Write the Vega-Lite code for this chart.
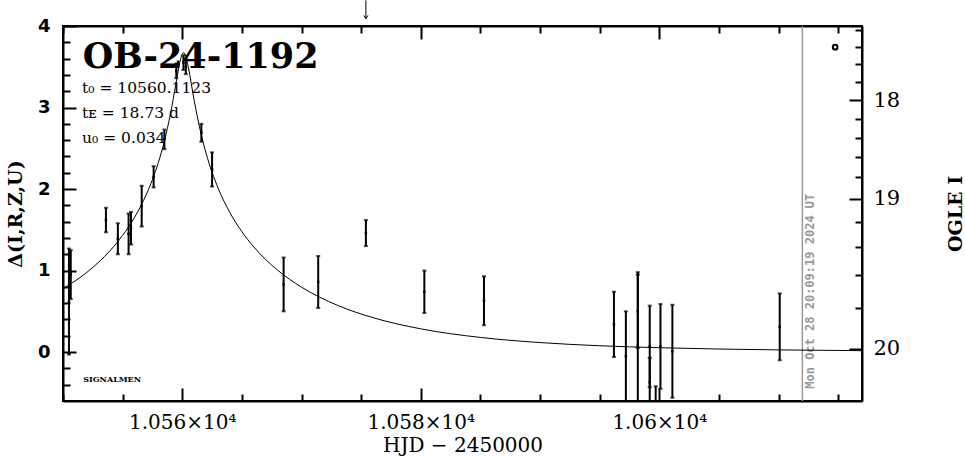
{
  "$schema": "https://vega.github.io/schema/vega-lite/v6.json",
  "autosize": "none",
  "width": 799,
  "height": 375,
  "padding": {"left": 63, "top": 26, "right": 103, "bottom": 58},
  "background": "white",
  "config": {
    "view": {"stroke": "black", "strokeWidth": 2},
    "font": "DejaVu Serif",
    "axis": {"domainColor": "black", "domainWidth": 2, "tickColor": "black", "tickWidth": 2, "labelColor": "black", "titleColor": "black", "grid": false, "labelFlush": false, "labelOverlap": false}
  },
  "datasets": {
    "obs": [
      {"hjd": 10550.5, "delta": 0.62, "err": 0.65},
      {"hjd": 10550.65, "delta": 0.95, "err": 0.3},
      {"hjd": 10553.6, "delta": 1.62, "err": 0.15},
      {"hjd": 10554.6, "delta": 1.39, "err": 0.19},
      {"hjd": 10555.5, "delta": 1.45, "err": 0.25},
      {"hjd": 10555.7, "delta": 1.52, "err": 0.2},
      {"hjd": 10556.6, "delta": 1.79, "err": 0.25},
      {"hjd": 10557.6, "delta": 2.15, "err": 0.13},
      {"hjd": 10558.5, "delta": 2.61, "err": 0.12},
      {"hjd": 10559.5, "delta": 3.45, "err": 0.09},
      {"hjd": 10560.1, "delta": 3.55, "err": 0.09},
      {"hjd": 10560.3, "delta": 3.5, "err": 0.09},
      {"hjd": 10561.6, "delta": 2.69, "err": 0.11},
      {"hjd": 10562.5, "delta": 2.24, "err": 0.21},
      {"hjd": 10568.5, "delta": 0.83, "err": 0.33},
      {"hjd": 10571.4, "delta": 0.86, "err": 0.32},
      {"hjd": 10575.4, "delta": 1.46, "err": 0.16},
      {"hjd": 10580.3, "delta": 0.74, "err": 0.26},
      {"hjd": 10585.3, "delta": 0.63, "err": 0.3},
      {"hjd": 10596.2, "delta": 0.34, "err": 0.4},
      {"hjd": 10597.2, "delta": -0.05, "err": 0.55},
      {"hjd": 10598.2, "delta": 0.08, "err": 0.9},
      {"hjd": 10598.2, "delta": 0.5, "err": 0.45},
      {"hjd": 10599.2, "delta": 0.07, "err": 0.5},
      {"hjd": 10599.2, "delta": -0.37, "err": 0.3},
      {"hjd": 10599.7, "delta": -0.75, "err": 0.33},
      {"hjd": 10600.1, "delta": 0.07, "err": 0.52},
      {"hjd": 10601.1, "delta": 0.01, "err": 0.57},
      {"hjd": 10610.1, "delta": 0.31, "err": 0.41}
    ],
    "model": [
      {"hjd": 10550, "delta": 0.777},
      {"hjd": 10552, "delta": 0.978},
      {"hjd": 10554, "delta": 1.2525},
      {"hjd": 10555, "delta": 1.4316},
      {"hjd": 10556, "delta": 1.653},
      {"hjd": 10557, "delta": 1.938},
      {"hjd": 10558, "delta": 2.328},
      {"hjd": 10558.5, "delta": 2.5875},
      {"hjd": 10559, "delta": 2.914},
      {"hjd": 10559.5, "delta": 3.317},
      {"hjd": 10559.8, "delta": 3.555},
      {"hjd": 10560, "delta": 3.655},
      {"hjd": 10560.1123, "delta": 3.672},
      {"hjd": 10560.3, "delta": 3.6266},
      {"hjd": 10560.5, "delta": 3.5008},
      {"hjd": 10561, "delta": 3.087},
      {"hjd": 10561.5, "delta": 2.7245},
      {"hjd": 10562, "delta": 2.4376},
      {"hjd": 10563, "delta": 2.014},
      {"hjd": 10564, "delta": 1.71},
      {"hjd": 10565, "delta": 1.4771},
      {"hjd": 10566, "delta": 1.2897},
      {"hjd": 10568, "delta": 1.0046},
      {"hjd": 10570, "delta": 0.7968},
      {"hjd": 10573, "delta": 0.5749},
      {"hjd": 10576, "delta": 0.422},
      {"hjd": 10580, "delta": 0.2852},
      {"hjd": 10585, "delta": 0.1798},
      {"hjd": 10590, "delta": 0.1167},
      {"hjd": 10595, "delta": 0.0779},
      {"hjd": 10600, "delta": 0.0534},
      {"hjd": 10605, "delta": 0.0375},
      {"hjd": 10610, "delta": 0.0269},
      {"hjd": 10617, "delta": 0.0175}
    ],
    "one": [{}]
  },
  "layer": [
    {
      "data": {"name": "obs"},
      "mark": {"type": "point", "shape": "square", "filled": true, "size": 6, "color": "black", "opacity": 1, "clip": true},
      "encoding": {
        "x": {
          "field": "hjd", "type": "quantitative",
          "scale": {"domain": [10550, 10617], "nice": false, "zero": false},
          "axis": {
            "orient": "bottom", "title": "HJD − 2450000",
            "values": [10550, 10555, 10560, 10565, 10570, 10575, 10580, 10585, 10590, 10595, 10600, 10605, 10610, 10615],
            "tickSize": {"condition": {"test": "datum.value % 20 == 0", "value": -13}, "value": -7},
            "labelExpr": "datum.value % 20 == 0 ? format(datum.value / 10000, '.4~f') + '×10⁴' : ''",
            "labelFont": "DejaVu Serif", "labelFontSize": 20, "labelPadding": 24,
            "titleFont": "DejaVu Serif", "titleFontSize": 20, "titleFontWeight": "normal", "titlePadding": -3
          }
        },
        "y": {
          "field": "delta", "type": "quantitative",
          "scale": {"domain": [-0.6, 4], "nice": false, "zero": false},
          "axis": {
            "orient": "left", "title": "Δ(I,R,Z,U)",
            "values": [-0.4, -0.2, 0, 0.2, 0.4, 0.6, 0.8, 1, 1.2, 1.4, 1.6, 1.8, 2, 2.2, 2.4, 2.6, 2.8, 3, 3.2, 3.4, 3.6, 3.8, 4],
            "tickSize": {"condition": {"test": "abs(datum.value - round(datum.value)) < 0.001", "value": -13}, "value": -7},
            "labelExpr": "abs(datum.value - round(datum.value)) < 0.001 ? format(datum.value, 'd') : ''",
            "labelFont": "DejaVu Sans", "labelFontWeight": "bold", "labelFontSize": 18, "labelPadding": 26,
            "titleFont": "DejaVu Serif", "titleFontSize": 19, "titleFontWeight": "bold", "titlePadding": 12
          }
        }
      }
    },
    {
      "data": {"name": "obs"},
      "mark": {"type": "errorbar", "ticks": {"size": 4, "thickness": 2}, "thickness": 2, "color": "black", "clip": true},
      "encoding": {
        "x": {"field": "hjd", "type": "quantitative", "scale": {"domain": [10550, 10617], "nice": false, "zero": false}, "axis": null},
        "y": {"field": "delta", "type": "quantitative", "scale": {"domain": [-0.6, 4], "nice": false, "zero": false}, "axis": null},
        "yError": {"field": "err"}
      }
    },
    {
      "data": {"name": "one"},
      "mark": {"type": "rule", "color": "#999999", "strokeWidth": 1.5},
      "encoding": {
        "x": {"datum": 10612.0, "type": "quantitative", "scale": {"domain": [10550, 10617], "nice": false, "zero": false}, "axis": null}
      }
    },
    {
      "data": {"name": "one"},
      "mark": {"type": "text", "text": "Mon Oct 28 20:09:19 2024 UT", "angle": 270, "align": "left", "baseline": "top", "font": "DejaVu Sans Mono", "fontWeight": "bold", "fontSize": 12, "color": "#999999"},
      "encoding": {
        "x": {"datum": 10612.2, "type": "quantitative", "scale": {"domain": [10550, 10617], "nice": false, "zero": false}, "axis": null},
        "y": {"datum": -0.45, "type": "quantitative", "scale": {"domain": [-0.6, 4], "nice": false, "zero": false}, "axis": null}
      }
    },
    {
      "data": {"name": "one"},
      "mark": {"type": "text", "text": "OB-24-1192", "align": "left", "baseline": "alphabetic", "font": "DejaVu Serif", "fontWeight": "bold", "fontSize": 35, "color": "black"},
      "encoding": {
        "x": {"datum": 10551.65, "type": "quantitative", "scale": {"domain": [10550, 10617], "nice": false, "zero": false}, "axis": null},
        "y": {"datum": 3.49, "type": "quantitative", "scale": {"domain": [-0.6, 4], "nice": false, "zero": false}, "axis": null}
      }
    },
    {
      "data": {"name": "one"},
      "mark": {"type": "text", "text": ["t₀ = 10560.1123", "tᴇ = 18.73 d", "u₀ = 0.034"], "lineHeight": 25, "align": "left", "baseline": "top", "font": "DejaVu Serif", "fontSize": 15.5, "color": "black"},
      "encoding": {
        "x": {"datum": 10551.6, "type": "quantitative", "scale": {"domain": [10550, 10617], "nice": false, "zero": false}, "axis": null},
        "y": {"datum": 3.33, "type": "quantitative", "scale": {"domain": [-0.6, 4], "nice": false, "zero": false}, "axis": null}
      }
    },
    {
      "data": {"name": "one"},
      "mark": {"type": "text", "text": "SIGNALMEN", "align": "left", "baseline": "middle", "font": "DejaVu Serif", "fontWeight": "bold", "fontSize": 8, "color": "black"},
      "encoding": {
        "x": {"datum": 10551.7, "type": "quantitative", "scale": {"domain": [10550, 10617], "nice": false, "zero": false}, "axis": null},
        "y": {"datum": -0.34, "type": "quantitative", "scale": {"domain": [-0.6, 4], "nice": false, "zero": false}, "axis": null}
      }
    },
    {
      "data": {"name": "one"},
      "mark": {"type": "rule", "color": "black", "strokeWidth": 1},
      "encoding": {
        "x": {"datum": 10575.4, "type": "quantitative", "scale": {"domain": [10550, 10617], "nice": false, "zero": false}, "axis": null},
        "y": {"datum": 4.315, "type": "quantitative", "scale": {"domain": [-0.6, 4], "nice": false, "zero": false}, "axis": null},
        "y2": {"datum": 4.09}
      }
    },
    {
      "data": {"name": "one"},
      "mark": {"type": "point", "shape": "M-1,-1.6L0,0L1,-1.6", "filled": false, "size": 16, "strokeWidth": 1, "color": "black", "opacity": 1},
      "encoding": {
        "x": {"datum": 10575.4, "type": "quantitative", "scale": {"domain": [10550, 10617], "nice": false, "zero": false}, "axis": null},
        "y": {"datum": 4.09, "type": "quantitative", "scale": {"domain": [-0.6, 4], "nice": false, "zero": false}, "axis": null}
      }
    },
    {
      "data": {"name": "one"},
      "mark": {"type": "point", "shape": "circle", "filled": false, "size": 22, "strokeWidth": 2, "color": "black", "opacity": 1},
      "encoding": {
        "x": {"datum": 10614.75, "type": "quantitative", "scale": {"domain": [10550, 10617], "nice": false, "zero": false}, "axis": null},
        "y": {"datum": 3.74, "type": "quantitative", "scale": {"domain": [-0.6, 4], "nice": false, "zero": false}, "axis": null}
      }
    },
    {
      "data": {"name": "model"},
      "mark": {"type": "line", "color": "black", "strokeWidth": 1, "interpolate": "monotone", "clip": true},
      "encoding": {
        "x": {
          "field": "hjd", "type": "quantitative",
          "scale": {"domain": [10550, 10617], "nice": false, "zero": false},
          "axis": {
            "orient": "top", "title": null, "labels": false,
            "values": [10550, 10555, 10560, 10565, 10570, 10575, 10580, 10585, 10590, 10595, 10600, 10605, 10610, 10615],
            "tickSize": {"condition": {"test": "datum.value % 20 == 0", "value": -13}, "value": -7}
          }
        },
        "y": {
          "field": "delta", "type": "quantitative",
          "scale": {"domain": [-0.6, 4], "nice": false, "zero": false},
          "axis": {
            "orient": "right", "title": "OGLE I", "titleAngle": 270,
            "values": [3.955, 3.743, 3.529, 3.311, 3.09, 2.864, 2.632, 2.393, 2.143, 1.879, 1.598, 1.292, 0.948, 0.546, 0.039],
            "tickSize": {"condition": {"test": "abs(datum.value - 3.09) < 0.001 || abs(datum.value - 1.879) < 0.001 || abs(datum.value - 0.039) < 0.001", "value": -13}, "value": -7},
            "labelExpr": "abs(datum.value - 3.09) < 0.001 ? '18' : abs(datum.value - 1.879) < 0.001 ? '19' : abs(datum.value - 0.039) < 0.001 ? '20' : ''",
            "labelFont": "DejaVu Serif", "labelFontSize": 21, "labelPadding": 24,
            "titleFont": "DejaVu Serif", "titleFontSize": 19, "titleFontWeight": "bold", "titlePadding": 66
          }
        }
      }
    }
  ],
  "resolve": {"scale": {"x": "independent", "y": "independent"}, "axis": {"x": "independent", "y": "independent"}}
}
